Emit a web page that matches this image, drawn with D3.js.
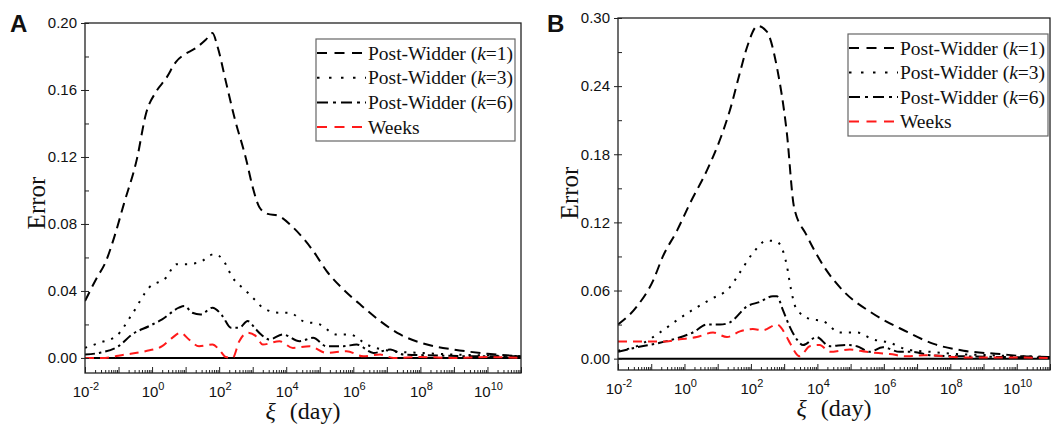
<!DOCTYPE html>
<html>
<head>
<meta charset="utf-8">
<script src="https://cdn.jsdelivr.net/npm/d3@7"></script>
<style>
body { margin: 0; background: #fff; }
svg text { fill: #111; }
.num { font-family: "Liberation Sans", Arial, sans-serif; font-size: 15px; }
.serif { font-family: "Liberation Serif", "Times New Roman", serif; }
</style>
</head>
<body>
<svg id="chart" width="1051" height="428"></svg>
<script>
// Values, each point is [log10(xi in days), error]
var errA_k1 = [[-2,0.034],[-1.67,0.047],[-1.37,0.058],[-1.13,0.072],[-0.84,0.092],[-0.45,0.119],[-0.18,0.146],[0.12,0.159],[0.42,0.167],[0.72,0.177],[0.95,0.181],[1.3,0.185],[1.6,0.190],[1.8,0.194],[1.95,0.186],[2.2,0.165],[2.45,0.144],[2.8,0.119],[3.0,0.102],[3.2,0.090],[3.45,0.086],[3.75,0.085],[4.2,0.078],[4.8,0.064],[5.2,0.052],[5.7,0.041],[6.2,0.032],[6.8,0.022],[7.4,0.014],[8.2,0.008],[9.0,0.005],[10.0,0.0025],[11,0.001]];
var errA_k3 = [[-2,0.006],[-1.58,0.009],[-1.07,0.013],[-0.6,0.026],[-0.09,0.042],[0.42,0.048],[0.72,0.056],[1.0,0.056],[1.4,0.057],[1.85,0.062],[2.1,0.059],[2.4,0.048],[2.8,0.040],[3.1,0.034],[3.3,0.030],[3.8,0.027],[4.1,0.027],[4.5,0.022],[5.0,0.020],[5.5,0.014],[5.9,0.014],[6.4,0.008],[7.2,0.004],[8.0,0.003],[9.0,0.002],[10,0.0015],[11,0.001]];
var errA_k6 = [[-2,0.002],[-1.58,0.003],[-1,0.007],[-0.6,0.014],[-0.09,0.019],[0.3,0.023],[0.8,0.030],[0.96,0.031],[1.2,0.027],[1.45,0.026],[1.8,0.030],[2.1,0.025],[2.35,0.018],[2.6,0.018],[2.85,0.022],[3.1,0.017],[3.25,0.014],[3.5,0.011],[3.9,0.014],[4.4,0.010],[4.8,0.012],[5.2,0.007],[5.7,0.007],[6.1,0.008],[6.6,0.003],[7.1,0.005],[7.5,0.002],[8.5,0.0015],[9.5,0.001],[11,0.001]];
var errA_weeks = [[-2,0.0],[-1.5,0.0],[-0.8,0.002],[-0.2,0.004],[0.3,0.007],[0.6,0.012],[0.85,0.015],[1.1,0.011],[1.4,0.007],[1.8,0.008],[2.0,0.005],[2.2,0.0005],[2.4,0.0],[2.6,0.010],[2.85,0.015],[3.1,0.013],[3.3,0.008],[3.8,0.010],[4.2,0.006],[4.7,0.007],[5.2,0.003],[5.8,0.004],[6.3,0.001],[6.8,0.002],[7.2,0.0],[8,0.0005],[9,0.0],[10,0.0005],[11,0.0]];

var errB_k1 = [[-2,0.030],[-1.43,0.046],[-0.94,0.069],[-0.65,0.090],[-0.22,0.113],[0.17,0.137],[0.68,0.166],[1.07,0.193],[1.37,0.219],[1.67,0.252],[1.88,0.274],[2.2,0.293],[2.48,0.288],[2.78,0.257],[3.08,0.199],[3.3,0.133],[3.67,0.109],[4.2,0.081],[4.8,0.059],[5.6,0.041],[6.6,0.025],[7.5,0.013],[8.4,0.007],[9.5,0.004],[10.3,0.002],[11,0.0015]];
var errB_k3 = [[-2,0.007],[-1.43,0.011],[-0.74,0.023],[-0.22,0.034],[0.25,0.043],[0.77,0.052],[1.37,0.063],[1.67,0.076],[2.06,0.093],[2.48,0.104],[2.78,0.103],[3.08,0.082],[3.2,0.062],[3.35,0.045],[3.77,0.035],[4.17,0.033],[4.68,0.023],[5.19,0.023],[5.67,0.017],[6.18,0.014],[6.7,0.008],[7.4,0.006],[8.2,0.004],[9.2,0.003],[10.2,0.002],[11,0.0015]];
var errB_k6 = [[-2,0.006],[-1.43,0.010],[-0.74,0.014],[-0.22,0.018],[0.25,0.023],[0.68,0.030],[1.07,0.030],[1.37,0.032],[1.88,0.046],[2.27,0.050],[2.66,0.055],[2.78,0.055],[2.96,0.043],[3.17,0.028],[3.38,0.017],[3.57,0.012],[3.97,0.019],[4.37,0.011],[4.88,0.012],[5.19,0.011],[5.57,0.006],[5.97,0.010],[6.48,0.006],[6.88,0.006],[7.38,0.003],[8.5,0.002],[9.5,0.0015],[11,0.001]];
var errB_weeks = [[-2,0.015],[-1.13,0.015],[-0.65,0.015],[-0.14,0.017],[0.37,0.019],[0.86,0.023],[1.28,0.019],[1.67,0.024],[2.06,0.026],[2.36,0.025],[2.78,0.030],[3.08,0.019],[3.17,0.014],[3.47,0.002],[3.77,0.011],[4.07,0.012],[4.37,0.006],[4.98,0.008],[5.47,0.006],[6.18,0.004],[6.7,0.002],[7.2,0.003],[8.5,0.001],[10,0.001],[11,0.0005]];

// Legend labels (k value goes in italics)
var legendKs = [1, 3, 6];
var legendWeeks = "Weeks";

// Tick labels
var xTickExps = [-2, 0, 2, 4, 6, 8, 10];
var xDomainExps = [-2, 11];
var yTicksA = [0.00, 0.04, 0.08, 0.12, 0.16, 0.20];
var yTicksB = [0.00, 0.06, 0.12, 0.18, 0.24, 0.30];

// Line styles: k=1, k=3, k=6, Weeks
var styles = [
	{color: "#000", dash: "10,6", legendDash: "10,7.5"},
	{color: "#000", dash: "2.2,7", legendDash: "2.5,9.5"},
	{color: "#000", dash: "10,4,2.5,4", legendDash: "11,5,3,5"},
	{color: "#ff1a1a", dash: "9,6", legendDash: "10,7.5"}
];

var svg = d3.select("#chart");

var panels = [
	{letter: "A", series: [errA_k1, errA_k3, errA_k6, errA_weeks], yTicks: yTicksA, yMin: -0.009,
	 left: 85, right: 521, top: 23, bottom: 373,
	 legend: {x: 316, y: 39, w: 199, h: 102, row: 24.7},
	 letterX: 10, yLabelX: 45, yLabelY: 203},
	{letter: "B", series: [errB_k1, errB_k3, errB_k6, errB_weeks], yTicks: yTicksB, yMin: -0.010,
	 left: 618, right: 1050, top: 18, bottom: 370,
	 legend: {x: 848, y: 34, w: 200, h: 102, row: 24.5},
	 letterX: 547, yLabelX: 578, yLabelY: 193}
];

panels.forEach(function(p, i) { drawPanel(p, i); });

function drawPanel(p, idx) {
	var g = svg.append("g");

	var x = d3.scaleLog()
		.domain([Math.pow(10, xDomainExps[0]), Math.pow(10, xDomainExps[1])])
		.range([p.left, p.right]);
	var y = d3.scaleLinear()
		.domain([p.yMin, p.yTicks[p.yTicks.length - 1]])
		.range([p.bottom, p.top]);

	// clip so curves stay inside the frame
	g.append("clipPath").attr("id", "clip" + idx)
		.append("rect")
		.attr("x", p.left).attr("y", p.top)
		.attr("width", p.right - p.left).attr("height", p.bottom - p.top);

	// zero line
	g.append("line")
		.attr("x1", p.left).attr("x2", p.right)
		.attr("y1", y(0)).attr("y2", y(0))
		.attr("stroke", "#000").attr("stroke-width", 2);

	var line = d3.line()
		.x(function(d) { return x(Math.pow(10, d[0])); })
		.y(function(d) { return y(d[1]); })
		.curve(d3.curveMonotoneX);

	var curves = g.append("g").attr("clip-path", "url(#clip" + idx + ")");
	// draw black ones first, red on top
	[2, 1, 0, 3].forEach(function(s) {
		curves.append("path")
			.datum(p.series[s])
			.attr("fill", "none")
			.attr("stroke", styles[s].color)
			.attr("stroke-width", 2)
			.attr("stroke-dasharray", styles[s].dash)
			.attr("d", line);
	});

	// frame
	g.append("rect")
		.attr("x", p.left).attr("y", p.top)
		.attr("width", p.right - p.left).attr("height", p.bottom - p.top)
		.attr("fill", "none").attr("stroke", "#222").attr("stroke-width", 1.3);

	// x ticks (inward)
	var majors = d3.range(xDomainExps[0], xDomainExps[1] + 1).map(function(e) { return Math.pow(10, e); });
	var minors = [];
	for (var e = xDomainExps[0]; e < xDomainExps[1]; e++) {
		for (var m = 2; m <= 9; m++) minors.push(m * Math.pow(10, e));
	}
	var xAxisMajor = g.append("g")
		.attr("transform", "translate(0," + p.bottom + ")")
		.call(d3.axisBottom(x).tickValues(majors).tickSize(-6).tickFormat(""));
	var xAxisMinor = g.append("g")
		.attr("transform", "translate(0," + p.bottom + ")")
		.call(d3.axisBottom(x).tickValues(minors).tickSize(-3).tickFormat(""));
	[xAxisMajor, xAxisMinor].forEach(function(a) {
		a.select(".domain").remove();
		a.selectAll("line").attr("stroke", "#222").attr("stroke-width", 1);
	});

	// x tick labels with superscript exponents
	xTickExps.forEach(function(e) {
		var t = g.append("text")
			.attr("class", "num")
			.attr("x", x(Math.pow(10, e)) + 1)
			.attr("y", p.bottom + 24)
			.attr("text-anchor", "middle");
		t.append("tspan").text("10");
		t.append("tspan").attr("dy", -7).attr("font-size", 11).text(e);
	});

	// y ticks: majors cross the axis, minors inside
	var step = p.yTicks[1] - p.yTicks[0];
	var yMinors = p.yTicks.slice(0, -1).map(function(v) { return v + step / 2; });
	var yAxisLeft = g.append("g")
		.attr("transform", "translate(" + p.left + ",0)")
		.call(d3.axisLeft(y).tickValues(p.yTicks).tickSize(4).tickPadding(4)
			.tickFormat(d3.format(".2f")));
	var yAxisIn = g.append("g")
		.attr("transform", "translate(" + p.left + ",0)")
		.call(d3.axisRight(y).tickValues(p.yTicks.concat(yMinors)).tickSize(4).tickFormat(""));
	[yAxisLeft, yAxisIn].forEach(function(a) {
		a.select(".domain").remove();
		a.selectAll("line").attr("stroke", "#222").attr("stroke-width", 1);
	});
	yAxisLeft.selectAll("text")
		.attr("class", "num")
		.attr("font-size", null).attr("font-family", null)
		.attr("fill", "#111");

	// axis titles
	g.append("text")
		.attr("class", "serif")
		.attr("font-size", 25)
		.attr("text-anchor", "middle")
		.attr("transform", "translate(" + p.yLabelX + "," + p.yLabelY + ") rotate(-90)")
		.text("Error");

	var xl = g.append("text")
		.attr("class", "serif")
		.attr("font-size", 24)
		.attr("text-anchor", "middle")
		.attr("x", (p.left + p.right) / 2)
		.attr("y", p.bottom + 46);
	xl.append("tspan").attr("font-style", "italic").text("\u03be");
	xl.append("tspan").attr("dx", 14).text("(day)");

	// panel letter
	g.append("text")
		.attr("x", p.letterX).attr("y", 32)
		.attr("font-family", "Liberation Sans, Arial, sans-serif")
		.attr("font-weight", "bold")
		.attr("font-size", 24)
		.text(p.letter);

	// legend
	var L = p.legend;
	g.append("rect")
		.attr("x", L.x).attr("y", L.y).attr("width", L.w).attr("height", L.h)
		.attr("fill", "#fff").attr("stroke", "#666").attr("stroke-width", 1.2);
	for (var r = 0; r < 4; r++) {
		var cy = L.y + 14 + r * L.row;
		g.append("line")
			.attr("x1", L.x + 1).attr("x2", L.x + 50)
			.attr("y1", cy).attr("y2", cy)
			.attr("stroke", styles[r].color)
			.attr("stroke-width", 2)
			.attr("stroke-dasharray", styles[r].legendDash);
		var lt = g.append("text")
			.attr("class", "serif")
			.attr("font-size", 19.5)
			.attr("x", L.x + 52)
			.attr("y", cy + 6.5);
		if (r < 3) {
			lt.append("tspan").text("Post-Widder (");
			lt.append("tspan").attr("font-style", "italic").text("k");
			lt.append("tspan").text("=" + legendKs[r] + ")");
		} else {
			lt.text(legendWeeks);
		}
	}
}
</script>
</body>
</html>
